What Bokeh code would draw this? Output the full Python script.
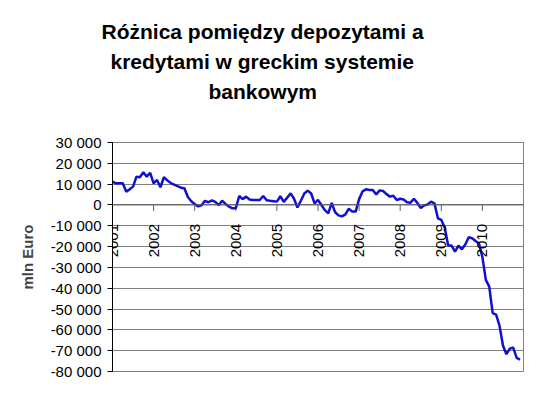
import math
from bokeh.plotting import figure
from bokeh.models import FixedTicker, Span, Title
from bokeh.core.properties import value
from bokeh.embed import file_html
from bokeh.resources import INLINE

title_lines = ["Różnica pomiędzy depozytami a", "kredytami w greckim systemie", "bankowym"]
y_label = "mln Euro"

start_year = 2001
# monthly difference deposits - loans (mln EUR), Jan 2001 .. Dec 2010
diff = [
    11200, 10400, 10400, 10400, 6400, 7500, 8800, 13600, 13300, 15700, 13600, 15400,
    10400, 12000, 8500, 13300, 11800, 10500, 9800, 9000, 8300, 8000, 3800, 1800,
    500, -700, -200, 2000, 1300, 2200, 1500, -100, 2000, 500, -800, -1600,
    -1600, 4300, 2800, 4000, 2600, 2400, 2400, 2400, 4300, 2300, 2000, 1800,
    1600, 4200, 1500, 3500, 5600, 3000, -1200, 2000, 5500, 6900, 5500, 800,
    2400, 0, -2500, -4000, 1000, -3500, -5000, -5500, -4500, -1800, -3200, -3200,
    2800, 6500, 7500, 7200, 7200, 5000, 7000, 6700, 5200, 4000, 4400, 2400,
    3000, 2600, 1300, 1100, 3000, 1000, -1500, -200, 200, 1600, 800, -6400,
    -7200, -10800, -19500, -19500, -22400, -19500, -21300, -19000, -15500, -16000, -17300, -18500,
    -25000, -36000, -39200, -52000, -52700, -58000, -67500, -71700, -69000, -68500, -73500, -74300,
]
x_vals = [start_year + i / 12 for i in range(len(diff))]

year_ticks = [2001, 2002, 2003, 2004, 2005, 2006, 2007, 2008, 2009, 2010]
year_labels = [str(y) for y in year_ticks]
y_ticks = [30000, 20000, 10000, 0, -10000, -20000, -30000, -40000, -50000, -60000, -70000, -80000]
y_tick_labels = ["30 000", "20 000", "10 000", "0", "-10 000", "-20 000", "-30 000",
                 "-40 000", "-50 000", "-60 000", "-70 000", "-80 000"]

FONT = "Liberation Sans"

p = figure(width=542, height=404, output_backend="svg", toolbar_location=None,
           x_range=(2001, 2011), y_range=(-80000, 30000),
           x_axis_location=None,
           min_border_left=112, min_border_right=19, min_border_top=142, min_border_bottom=33)
p.background_fill_color = "white"
p.border_fill_color = "white"
p.outline_line_color = "#808080"

p.xgrid.visible = False
p.ygrid.ticker = FixedTicker(ticks=y_ticks)
p.ygrid.grid_line_color = "#808080"
p.ygrid.grid_line_width = 1

ax = p.yaxis[0]
ax.ticker = FixedTicker(ticks=y_ticks)
ax.major_label_overrides = {t: l for t, l in zip(y_ticks, y_tick_labels)}
ax.major_label_text_font = FONT
ax.major_label_text_font_size = "15px"
ax.major_label_text_color = "black"
ax.major_tick_out = 5
ax.major_tick_in = 0
ax.minor_tick_out = 0
ax.minor_tick_in = 0
ax.axis_line_color = "black"
ax.major_tick_line_color = "black"
ax.major_label_standoff = 6
ax.axis_label = y_label
ax.axis_label_text_font = FONT
ax.axis_label_text_font_style = "bold"
ax.axis_label_text_font_size = "15px"
ax.axis_label_standoff = 12

# horizontal axis at zero
p.add_layout(Span(location=0, dimension="width", line_color="#606060", line_width=1))
p.ray(x=year_ticks[1:], y=[0] * (len(year_ticks) - 1), length=6, length_units="screen",
      angle=-math.pi / 2, line_color="#606060", line_width=1)

p.line(x_vals, diff, line_color="#1010D0", line_width=2.5)

p.text(x=year_ticks, y=[0] * len(year_ticks), text=year_labels, angle=math.pi / 2,
       text_align="right", text_baseline="middle", y_offset=19,
       text_font=value(FONT), text_font_size="15px", text_color="black")

# spacer between frame and the title block
p.add_layout(Title(text=" ", text_font_size="1px", standoff=34), "above")
# titles stacked upward from the frame: add the bottom line first
title_offsets = [-11, -2, 96]
for line, off in reversed(list(zip(title_lines, title_offsets))):
    p.add_layout(Title(text=line, align="left", offset=off, standoff=5,
                       text_font=FONT, text_font_style="bold", text_font_size="21px",
                       text_color="black"), "above")

open("out.html", "w").write(file_html(p, INLINE))
